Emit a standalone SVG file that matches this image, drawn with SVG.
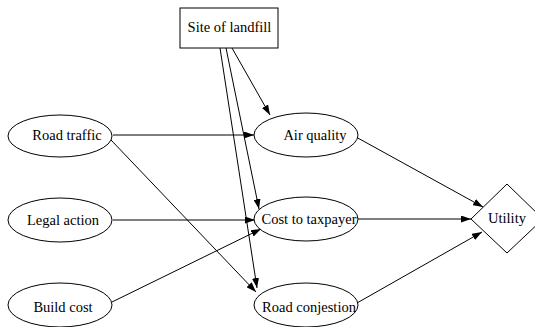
<svg xmlns="http://www.w3.org/2000/svg" width="535" height="327" viewBox="0 0 535 327">
<style>
.n{fill:#fff;stroke:#000;stroke-width:1}
.t{font-size:14.5px;fill:#000;text-anchor:middle}
.e{stroke:#000;stroke-width:1;fill:none;marker-end:url(#ah)}
</style>
<defs>
<marker id="ah" viewBox="0 0 10 7" refX="10" refY="3.5" markerWidth="10" markerHeight="7" markerUnits="userSpaceOnUse" orient="auto">
<path d="M0,0 L10,3.5 L0,7 z" fill="#000"/>
</marker>
</defs>
<rect width="535" height="327" fill="#fff"/>
<g id="connectors">
<line class="e" x1="232" y1="48" x2="270" y2="115"/>
<line class="e" x1="226" y1="48" x2="259" y2="209"/>
<line class="e" x1="220" y1="48" x2="257" y2="288"/>
<line class="e" x1="113" y1="135" x2="254" y2="135"/>
<line class="e" x1="111" y1="140" x2="256" y2="292"/>
<line class="e" x1="113" y1="220" x2="255" y2="220"/>
<line class="e" x1="112" y1="302" x2="261" y2="229"/>
<line class="e" x1="356" y1="137" x2="483" y2="207"/>
<line class="e" x1="358" y1="219" x2="471" y2="219"/>
<line class="e" x1="357" y1="303" x2="482" y2="232"/>
</g>
<g id="site">
<rect class="n" x="180" y="8" width="98" height="40"/>
<text class="t" font-family="'Liberation Serif', 'Times New Roman', serif" x="229.5" y="32">Site of landfill</text>
</g>
<g id="road_traffic">
<ellipse class="n" cx="60" cy="136" rx="52" ry="21"/>
<text class="t" font-family="'Liberation Serif', 'Times New Roman', serif" x="67" y="140">Road traffic</text>
</g>
<g id="legal_action">
<ellipse class="n" cx="60" cy="220" rx="52" ry="22"/>
<text class="t" font-family="'Liberation Serif', 'Times New Roman', serif" x="63" y="225">Legal action</text>
</g>
<g id="build_cost">
<ellipse class="n" cx="60" cy="305" rx="52" ry="22"/>
<text class="t" font-family="'Liberation Serif', 'Times New Roman', serif" x="63" y="312">Build cost</text>
</g>
<g id="air_quality">
<ellipse class="n" cx="306" cy="135" rx="52" ry="22"/>
<text class="t" font-family="'Liberation Serif', 'Times New Roman', serif" x="315" y="140">Air quality</text>
</g>
<g id="cost_to_taxpayer">
<ellipse class="n" cx="306" cy="219" rx="52" ry="22"/>
<text class="t" font-family="'Liberation Serif', 'Times New Roman', serif" x="309" y="224">Cost to taxpayer</text>
</g>
<g id="road_conjestion">
<ellipse class="n" cx="306" cy="305" rx="52" ry="22"/>
<text class="t" font-family="'Liberation Serif', 'Times New Roman', serif" x="309" y="312">Road conjestion</text>
</g>
<g id="utility">
<polygon class="n" points="507,184 543,219 507,253 471,219"/>
<text class="t" font-family="'Liberation Serif', 'Times New Roman', serif" x="507" y="223">Utility</text>
</g>
</svg>
